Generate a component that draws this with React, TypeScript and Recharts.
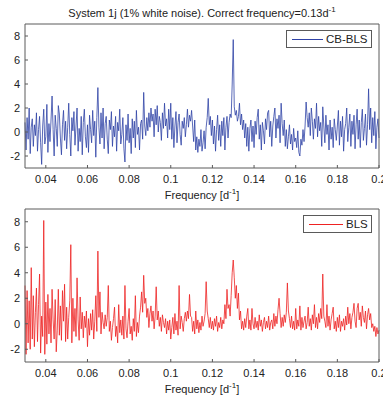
import { Line, LineChart, XAxis, YAxis } from 'recharts'

const X_TICKS = [0.04, 0.06, 0.08, 0.1, 0.12, 0.14, 0.16, 0.18, 0.2]
const Y_TICKS = [-2, 0, 2, 4, 6, 8]
const F_START = 0.03
const F_STEP = 0.0005

// CB-BLS, one value every 0.0005 d^-1 from 0.03 to 0.2
const cbBls = [
  0.8, -1.5, 1.2, -0.6, 2.0, -1.8, 0.4, 1.1, -1.2, 0.6, -0.3, 1.6, -1.6, 0.2, 1.3, -0.9, -2.7, 0.5, 1.9, -1.0,
  -0.4, 2.3, -1.7, 0.7, -0.8, 1.0, 3.0, 0.2, -2.0, 1.4, 0.3, -1.2, 2.2, 1.5, -0.5, -1.9, 0.6, 1.8, -0.7, 0.9,
  -1.4, 0.4, 2.4, -0.2, -2.0, 1.2, 0.1, 1.7, -1.1, 0.5, 2.0, -1.6, 0.3, -0.8, 1.3, -1.9, 0.8, 1.9, -0.4, -1.3,
  0.6, -1.7, 1.4, 0.2, -0.9, 1.8, -0.3, 0.9, -2.1, 1.2, 3.7, 0.4, -1.0, 1.6, -0.5, 2.0, -1.4, 0.7, 1.3, -0.6,
  -1.8, 1.0, 0.2, 1.7, -1.2, 0.5, -0.4, 1.3, -1.6, 0.8, 0.1, 1.9, -1.0, -0.2, 1.2, -1.4, -2.5, 0.6, -0.7, 1.5,
  -0.9, 0.3, -1.8, 1.1, -0.5, 0.9, -1.3, 1.8, -0.2, 0.4, -1.5, 0.7, 1.0, -0.6, 3.3, 0.5, -0.3, 1.2, 0.1, 1.6,
  0.4, 2.0, 0.9, 1.5, -0.4, 1.9, 0.6, 2.2, 0.0, 1.3, 0.8, -0.7, 1.6, 0.3, 2.4, 0.5, 1.1, -0.5, 1.9, 0.2,
  2.4, -0.6, 1.2, -1.3, 0.5, 1.7, -0.9, 0.8, 1.5, -0.2, -1.1, 0.9, 0.3, 1.2, -0.4, 0.6, 1.9, 0.4, 1.4, 0.9,
  1.8, 0.5, -0.8, 1.0, -1.5, -0.4, -1.7, -0.6, -1.2, 0.2, -1.6, -0.9, 0.1, -1.4, 0.4, 1.2, 2.8, 0.6, 1.3, -0.3,
  1.0, -1.0, 0.5, -1.6, 0.2, 1.4, -0.7, 0.6, -1.2, 0.9, -0.3, 1.2, -1.5, 0.4, 1.3, -0.5, 0.8, 1.5, 1.2, 4.0,
  7.7, 2.1, 1.4, 1.8, 0.9, 1.3, 2.4, 0.6, 1.5, 0.2, 1.0, -0.5, 0.7, -1.2, 0.4, -1.6, 0.3, 1.0, -0.8, 0.5,
  -1.3, 0.9, -0.2, 1.2, 1.9, -0.6, 0.6, -1.5, 0.8, 0.1, -1.0, 1.1, 0.2, 1.6, 1.8, -0.4, 0.9, -1.2, 0.5, 1.3,
  2.0, -0.5, 1.1, 0.3, 1.4, -0.9, 2.4, 0.7, -0.3, 1.0, -1.2, 0.2, -1.4, -0.4, 0.6, -1.0, -0.2, -1.5, 0.3, -0.8,
  -0.5, -1.3, 0.1, -1.7, -2.0, -0.6, -1.1, 0.2, -0.8, 0.5, 2.5, 1.2, 0.4, 1.6, -0.3, 2.0, 0.9, -0.6, 1.1, 0.3,
  2.4, -0.4, 1.3, 0.1, 0.8, -1.2, 2.1, 0.5, -0.9, 1.4, -0.2, 0.6, -1.5, 1.0, -0.6, 0.4, -1.3, 1.1, 0.2, -0.7,
  0.5, 1.8, -1.1, 0.9, -0.4, 1.3, -1.6, 0.2, 0.7, 2.0, -0.8, 0.4, 1.5, -1.2, 0.9, -0.2, 1.4, -1.4, 0.6, 1.9,
  -0.6, 1.0, -1.3, 0.8, 1.9, -0.7, 0.3, 1.5, -1.1, 0.6, 3.6, 0.2, 2.0, -0.9, 1.2, -0.3, 1.7, -1.4, 0.4, 1.1,
  -0.5,
]

// BLS, same frequency grid
const bls = [
  3.0, -2.4, 2.6, -1.5, 1.8, -2.0, 4.4, -1.2, 2.2, -1.8, 0.9, 2.8, -1.4, 1.5, 3.9, -2.3, 0.6, -1.0, 8.1, -2.4,
  1.7, -1.6, 2.3, -0.8, 1.2, -1.5, 2.7, 0.3, -1.2, 1.9, -2.2, -0.5, 2.7, -0.9, 1.4, -1.3, 2.6, 0.2, 3.1, -1.4,
  1.3, -1.2, 0.5, 1.8, 6.2, -1.5, 2.0, -0.6, 1.2, -1.0, 3.6, 0.3, -1.3, 2.1, -0.4, 0.9, -1.1, 0.6, -0.3, 1.0,
  -1.8, 0.4, -0.9, 0.8, -0.5, 1.1, -1.2, 0.2, 2.2, -0.6, 5.7, 0.5, 2.5, -0.8, 0.9, 0.1, -0.4, 0.7, -0.2, 0.5,
  3.0, -0.6, 0.2, -1.3, -0.3, 0.4, 1.3, -1.0, -0.2, -1.5, 1.5, -0.7, 0.3, -0.9, 0.6, -1.2, 3.0, -0.4, -1.1, 0.2,
  1.2, -0.8, -0.2, -1.3, 0.4, -0.6, 2.2, -1.0, 0.1, -0.7, 0.6, 1.3, 2.5, 0.9, 3.8, 1.6, 2.0, 0.5, 1.2, -0.3,
  0.8, 1.4, 0.2, 1.0, -0.4, 0.6, 2.9, 0.3, 1.0, -0.2, 0.5, -0.6, 0.7, 0.1, -0.3, 0.4, -0.8, 0.2, -0.5, 0.3,
  -1.2, -0.3, 0.5, -0.8, 0.8, -0.5, 0.2, -0.9, 3.0, -0.4, 0.6, 0.1, -0.6, 0.4, 0.9, 0.2, 1.0, 0.4, 2.3, 0.6,
  0.5, -0.6, 0.2, -0.8, 1.0, -0.4, 0.3, -0.7, 0.1, -0.5, 0.6, -0.2, 0.2, 0.8, 3.3, 1.0, 0.4, -0.3, 0.5, -0.4,
  0.2, -0.5, 0.4, -0.2, 0.6, -0.6, 0.1, -0.3, 0.5, -0.4, 0.3, 0.0, 1.5, 0.4, 2.7, 1.2, 1.5, 0.6, 2.2, 4.0,
  5.0, 3.6, 2.0, 3.0, 1.2, 2.4, 0.3, 1.0, -0.4, 0.2, -0.5, 0.4, -0.3, 0.6, 1.2, -0.4, 0.3, -0.5, 1.2, 0.0,
  -0.4, 0.5, -0.3, 0.2, -0.5, 0.7, -0.2, 0.3, -0.6, 0.1, 0.5, -0.4, 0.2, -0.3, 0.6, -0.5, 0.1, 0.3, -0.4, 0.8,
  -0.2, 0.6, 0.0, 1.1, 2.0, 0.8, -0.3, 0.5, -0.2, 0.7, 0.1, 0.9, 3.2, 1.0, 0.4, -0.3, 0.6, -0.4, 0.2, -0.5,
  1.2, -0.4, 0.3, -0.2, 1.4, -0.5, 0.5, -0.3, 0.2, 0.6, -0.4, 0.1, 1.3, -0.2, 0.4, -0.5, 0.7, 0.0, 1.5, -0.3,
  0.5, -0.4, 0.8, 0.1, 1.2, 0.4, 3.9, 0.6, 0.2, -0.3, 1.5, -0.2, 0.6, -0.5, 0.3, 0.8, 1.3, -0.4, 0.2, -0.6,
  0.5, -0.3, 0.7, -0.6, 0.2, -0.2, 0.4, -0.5, 0.6, -0.1, 1.3, 0.0, 0.8, -0.4, 0.5, 0.9, 1.6, 0.2, -0.3, 1.2,
  1.6, 0.3, 0.9, -0.2, 1.4, 0.5, 0.1, 1.0, -0.4, 0.7, 1.2, 0.3, 0.8, -0.3, 0.0, -0.6, -0.2, -1.0, -0.3, -0.8,
  -0.5,
]

const rows = cbBls.map((v, i) => ({
  f: Number((F_START + i * F_STEP).toFixed(4)),
  cb: v,
  bls: bls[i],
}))

const AXIS = '#5a5a5a'
const FONT = '"Liberation Sans", Arial, sans-serif'
const fmt = (v: number) => String(Number(v.toFixed(2)))
const supStyle = { fontSize: 8, lineHeight: 0 }

type PanelProps = {
  dataKey: string
  color: string
  height: number
  marginTop: number
  xHeight: number
}

function Panel({ dataKey, color, height, marginTop, xHeight }: PanelProps) {
  return (
    <LineChart
      width={383}
      height={height}
      data={rows}
      margin={{ top: marginTop, right: 3, bottom: 0, left: 0 }}
      style={{ fontFamily: FONT }}
    >
      <XAxis
        dataKey="f"
        type="number"
        domain={[0.03, 0.2]}
        ticks={X_TICKS}
        interval={0}
        tickFormatter={fmt}
        stroke={AXIS}
        tick={{ fill: '#222', fontSize: 11 }}
        tickSize={-3}
        tickMargin={10}
        height={xHeight}
      />
      <XAxis
        xAxisId="top"
        orientation="top"
        dataKey="f"
        type="number"
        domain={[0.03, 0.2]}
        ticks={X_TICKS}
        interval={0}
        tick={false}
        tickSize={-3}
        stroke={AXIS}
        height={1}
      />
      <YAxis
        type="number"
        domain={[-3, 9]}
        ticks={Y_TICKS}
        interval={0}
        stroke={AXIS}
        tick={{ fill: '#222', fontSize: 11 }}
        tickSize={-3}
        tickMargin={8}
        width={25}
      />
      <YAxis
        yAxisId="r"
        orientation="right"
        type="number"
        domain={[-3, 9]}
        ticks={Y_TICKS}
        interval={0}
        tick={false}
        tickSize={-3}
        stroke={AXIS}
        width={1}
      />
      <Line
        type="linear"
        dataKey={dataKey}
        stroke={color}
        strokeWidth={0.8}
        dot={false}
        isAnimationActive={false}
      />
    </LineChart>
  )
}

function LegendBox({ top, left, width, lineWidth, color, label }: {
  top: number
  left: number
  width: number
  lineWidth: number
  color: string
  label: string
}) {
  return (
    <div
      style={{
        position: 'absolute',
        top,
        left,
        width,
        height: 18,
        border: `1px solid ${AXIS}`,
        background: '#fff',
        display: 'flex',
        alignItems: 'center',
        boxSizing: 'border-box',
        fontSize: 11.5,
        color: '#222',
        whiteSpace: 'nowrap',
      }}
    >
      <div style={{ width: lineWidth, height: 1, background: color, marginLeft: 5, marginRight: 3, flexShrink: 0 }} />
      <span>{label}</span>
    </div>
  )
}

const labelStyle = {
  position: 'absolute' as const,
  left: 0,
  width: 404,
  textAlign: 'center' as const,
  fontSize: 11,
  color: '#222',
  lineHeight: '14px',
  whiteSpace: 'nowrap' as const,
}

export default function App() {
  return (
    <div
      style={{
        position: 'absolute',
        top: 0,
        left: 0,
        width: 383,
        height: 397,
        overflow: 'hidden',
        background: '#fff',
        fontFamily: FONT,
      }}
    >
      <div style={{ ...labelStyle, top: 6 }}>
        System 1j (1% white noise). Correct frequency=0.13d<sup style={supStyle}>-1</sup>
      </div>
      <div style={{ position: 'absolute', top: 0, left: 0 }}>
        <Panel dataKey="cb" color="#2f42a6" height={200} marginTop={23} xHeight={32} />
      </div>
      <div style={{ ...labelStyle, top: 188 }}>
        Frequency [d<sup style={supStyle}>-1</sup>]
      </div>
      <LegendBox top={30} left={286} width={86} lineWidth={31} color="#2f42a6" label="CB-BLS" />

      <div style={{ position: 'absolute', top: 200, left: 0 }}>
        <Panel dataKey="bls" color="#ee2222" height={197} marginTop={8} xHeight={35} />
      </div>
      <div style={{ ...labelStyle, top: 382 }}>
        Frequency [d<sup style={supStyle}>-1</sup>]
      </div>
      <LegendBox top={215} left={303} width={69} lineWidth={34} color="#ee2222" label="BLS" />
    </div>
  )
}
